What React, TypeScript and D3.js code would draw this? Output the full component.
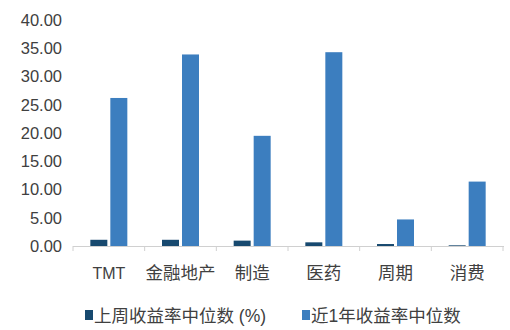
import React from "react";
import * as d3 from "d3";

const categories = ["TMT", "金融地产", "制造", "医药", "周期", "消费"];
const weekly = [1.1, 1.1, 0.95, 0.65, 0.35, 0.12];
const yearly = [26.2, 33.9, 19.5, 34.3, 4.7, 11.4];
const yTicks = [0, 5, 10, 15, 20, 25, 30, 35, 40];
const seriesNames = ["上周收益率中位数 (%)", "近1年收益率中位数"];

const W = 510, H = 330;
const colDark = "#17496f";
const colBlue = "#3c7ebf";
const font = "'Liberation Sans', Arial, 'Noto Sans CJK SC', sans-serif";

export default function App() {
  const x = d3.scaleBand<string>().domain(categories).range([73, 503]).paddingInner(0).paddingOuter(0);
  const y = d3.scaleLinear().domain([0, 40]).range([246, 20]);
  const bw = 17;
  const gap = 3;
  return (
    <svg width={W} height={H} style={{ position: "absolute", left: 0, top: 0, background: "#fff" }}>
      {yTicks.map((t) => (
        <text key={t} x={62} y={y(t)} dy="0.36em" textAnchor="end" fontSize={16.5} fill="#404040" fontFamily={font}>
          {t.toFixed(2)}
        </text>
      ))}
      <line x1={73} x2={504} y1={y(0) + 0.5} y2={y(0) + 0.5} stroke="#d0d0d0" strokeWidth={1.2} />
      {categories.map((c) => (
        <line key={"t" + c} x1={x(c)!} x2={x(c)!} y1={y(0)} y2={y(0) + 5} stroke="#d0d0d0" />
      ))}
      <line x1={503} x2={503} y1={y(0)} y2={y(0) + 5} stroke="#d0d0d0" />
      {categories.map((c, i) => {
        const cx = x(c)! + x.bandwidth() / 2;
        return (
          <g key={c}>
            <rect x={cx - gap / 2 - bw} y={y(weekly[i])} width={bw} height={y(0) - y(weekly[i])} fill={colDark} />
            <rect x={cx + gap / 2} y={y(yearly[i])} width={bw} height={y(0) - y(yearly[i])} fill={colBlue} />
            <text x={cx} y={273} dy="0.36em" textAnchor="middle" fontSize={i === 0 ? 16 : 17.5} fill="#404040" fontFamily={font}>
              {c}
            </text>
          </g>
        );
      })}
      <rect x={85} y={310} width={8} height={10} fill={colDark} />
      <text x={94} y={315.5} dy="0.36em" fontSize={17.5} fill="#404040" fontFamily={font}>{seriesNames[0]}</text>
      <rect x={302} y={310} width={8} height={10} fill={colBlue} />
      <text x={311} y={315.5} dy="0.36em" fontSize={17.5} fill="#404040" fontFamily={font}>{seriesNames[1]}</text>
    </svg>
  );
}
